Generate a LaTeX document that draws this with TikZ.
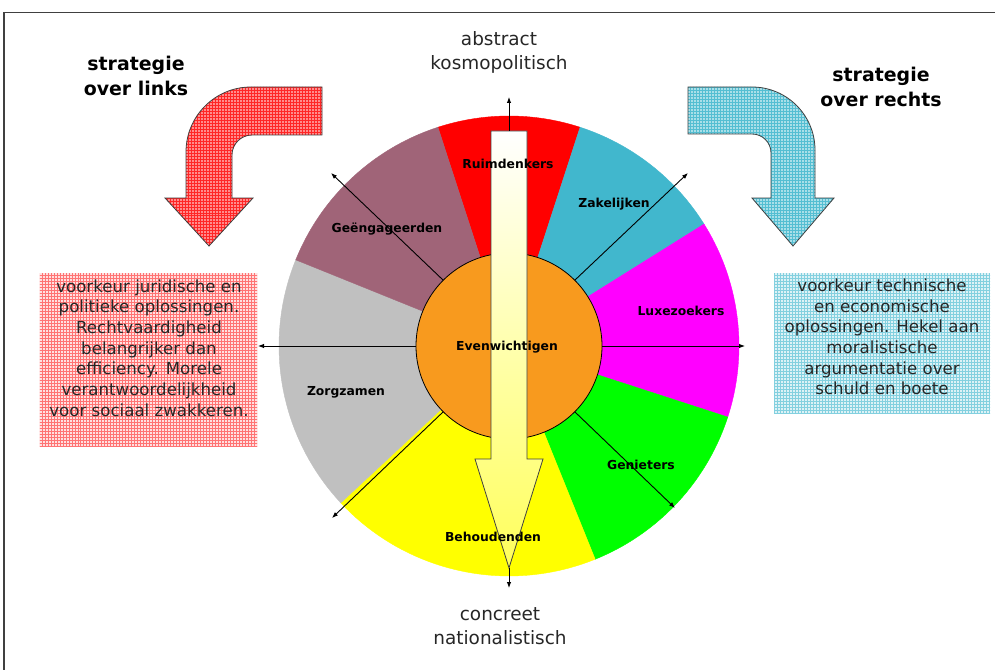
\documentclass[tikz,border=0pt]{standalone}
\usepackage{fontspec}
\setmainfont{DejaVu Sans}
\usetikzlibrary{arrows.meta,patterns}
\definecolor{cRed}{HTML}{FF0000}
\definecolor{cCyan}{HTML}{41B7CD}
\definecolor{cMag}{HTML}{FF00FF}
\definecolor{cGreen}{HTML}{00FF00}
\definecolor{cYellow}{HTML}{FFFF00}
\definecolor{cGrey}{HTML}{C0C0C0}
\definecolor{cMauve}{HTML}{A06478}
\definecolor{cOrange}{HTML}{F89A1E}
\definecolor{txtgrey}{HTML}{262626}
\definecolor{framegrey}{HTML}{404040}
\definecolor{arrowyellow}{RGB}{255,255,90}
\begin{document}
\begin{tikzpicture}[x=1bp,y=-1bp,
  seglabel/.style={font=\bfseries\fontsize{12.4}{14}\selectfont, text=black, inner sep=0},
  bodytext/.style={font=\fontsize{16.7}{20.7}\selectfont, text=txtgrey, align=center, inner sep=0},
  axislabel/.style={font=\fontsize{18.5}{24}\selectfont, text=txtgrey, align=center, inner sep=0},
  titletext/.style={font=\bfseries\fontsize{19}{25}\selectfont, text=black, align=center, inner sep=0},
  ray/.style={-{Latex[length=6bp,width=4.5bp]}, line width=0.9bp, black},
  redbox/.style={rectangle, inner sep=0, fill=red!12, postaction={pattern=grid, pattern color=red!55}},
  cyanbox/.style={rectangle, inner sep=0, fill=cCyan!18, postaction={pattern=grid, pattern color=cCyan!65}},
  redarrow/.style={fill=red!45, postaction={pattern=grid, pattern color=red!85}, postaction={draw=framegrey, line width=0.8bp}},
  cyanarrow/.style={fill=cCyan!45, postaction={pattern=grid, pattern color=cCyan!90}, postaction={draw=framegrey, line width=0.8bp}},
  bigarrow/.style={draw=framegrey, line width=0.8bp, top color=white, bottom color=arrowyellow}
]
\useasboundingbox (0,0) rectangle (995,670);
\fill[white] (0,0) rectangle (995,670);
\draw[framegrey, line width=1.3bp] (4,670) -- (4,12.5) -- (995,12.5);

% wheel wedges
\coordinate (C) at (509,346);
\foreach \a/\b/\c in {-108/-72/cRed, -72/-32/cCyan, -32/18/cMag, 18/68/cGreen, 68/137/cYellow, 137/202/cGrey, 202/252/cMauve}
  \path[fill=\c, draw=\c, line width=0.4bp] (C) -- plot[domain=\a:\b, samples=40] ({509+230*cos(\x)},{346+230*sin(\x)}) -- cycle;

% centre circle
\node[circle, draw=black, line width=0.8bp, fill=cOrange, minimum size=186bp, inner sep=0] (E) at (C) {};

% ray end points
\coordinate (eU) at (509,97);
\coordinate (eUR) at (688,173);
\coordinate (eR) at (745,346);
\coordinate (eDR) at (675,508);
\coordinate (eD) at (509,588);
\coordinate (eDL) at (332,518);
\coordinate (eL) at (258,346);
\coordinate (eUL) at (331,173);

\draw[ray] (E.45) -- (eUR);
\draw[ray] (E.0) -- (eR);
\draw[ray] (E.-45) -- (eDR);
\draw[ray] (E.225) -- (eDL);
\draw[ray] (E.180) -- (eL);
\draw[ray] (E.135) -- (eUL);

% big vertical arrow
\coordinate (BAtop) at (509,131);
\coordinate (BAtip) at (509,568);
\path[bigarrow] (491,131) -- (527,131) -- (527,459) -- (543,459) -- (BAtip) -- (475,459) -- (491,459) -- cycle;
\draw[ray] (BAtop) -- (eU);
\draw[ray] (BAtip) -- (eD);

% segment labels
\node[seglabel] (ruim) at (508,164) {Ruimdenkers};
\node[seglabel] (zak) at (614,204) {Zakelijken};
\node[seglabel] (geen) at (387,229) {Geëngageerden};
\node[seglabel] (lux) at (681,311) {Luxezoekers};
\node[seglabel] (even) at (507,347) {Evenwichtigen};
\node[seglabel] (zorg) at (346,392) {Zorgzamen};
\node[seglabel] (gen) at (641,465) {Genieters};
\node[seglabel] (beh) at (493,537) {Behoudenden};

% axis labels
\node[axislabel] (top) at (499,52) {abstract\\kosmopolitisch};
\node[axislabel] (bot) at (500,626) {concreet\\nationalistisch};

% strategy titles
\node[titletext] (tl) at (136,76) {strategie\\over links};
\node[titletext] (tr) at (881,87) {strategie\\over rechts};

% bent arrows
\path[redarrow] (322,87) -- (251,87) .. controls (215.1,87) and (186,116.1) .. (186,152) -- (186,198) -- (165,198) -- (209,246) -- (253,198) -- (232,198) -- (232,155) .. controls (232,144) and (241,135) .. (252,135) -- (322,135) -- cycle;
\path[cyanarrow] (688,87) -- (752,87) .. controls (786.8,87) and (815,115.2) .. (815,150) -- (815,198) -- (834,198) -- (793,246) -- (752,198) -- (771,198) -- (771,153) .. controls (771,142.5) and (762.5,134) .. (752,134) -- (688,134) -- cycle;

% text boxes
\node[redbox, minimum width=217bp, minimum height=173bp] (lbox) at (148.5,359.5) {};
\node[bodytext] (ltext) at (149,348) {voorkeur juridische en\\politieke oplossingen.\\Rechtvaardigheid\\belangrijker dan\\efficiency. Morele\\verantwoordelijkheid\\voor sociaal zwakkeren.};
\node[cyanbox, minimum width=216bp, minimum height=140bp] (rbox) at (882,343) {};
\node[bodytext] (rtext) at (882,337) {voorkeur technische\\en economische\\oplossingen. Hekel aan\\moralistische\\argumentatie over\\schuld en boete};
\end{tikzpicture}
\end{document}
